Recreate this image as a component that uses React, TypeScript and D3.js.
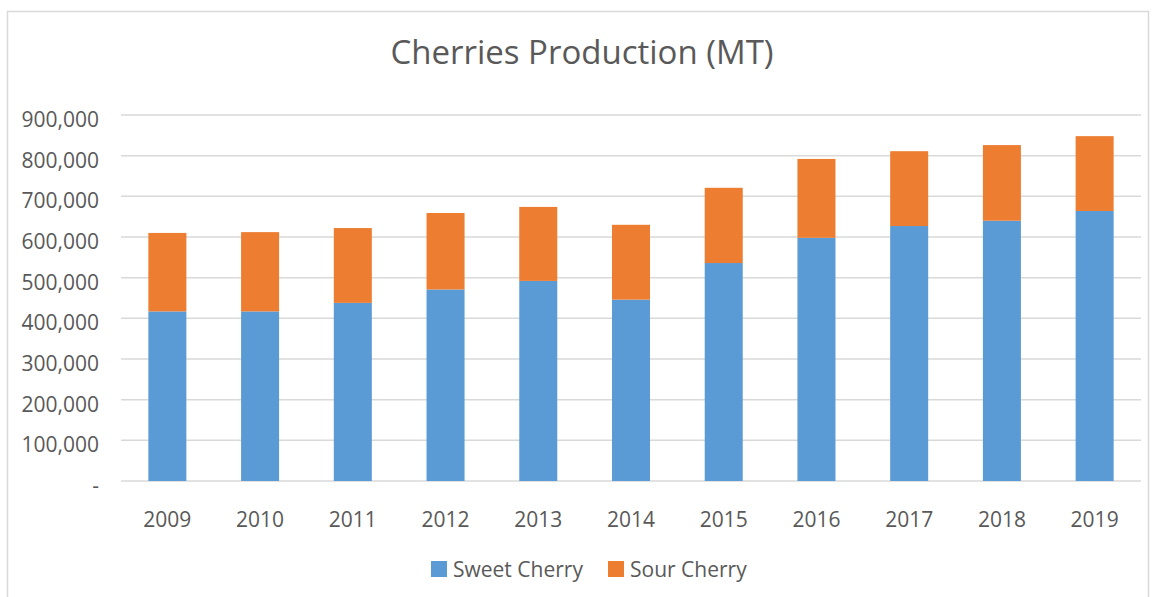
import React, { useEffect, useRef } from "react";
import * as d3 from "d3";

const years = ["2009", "2010", "2011", "2012", "2013", "2014", "2015", "2016", "2017", "2018", "2019"];
const sweetCherry = [417000, 417000, 438000, 471000, 492000, 446000, 536000, 598000, 627000, 640000, 664000];
const sourCherry = [193000, 195000, 184000, 188000, 182000, 184000, 185000, 194000, 184000, 186000, 184000];
const yTicks = [0, 100000, 200000, 300000, 400000, 500000, 600000, 700000, 800000, 900000];
const seriesNames = ["Sweet Cherry", "Sour Cherry"];
const seriesColors = ["#5b9bd5", "#ed7d31"];

const W = 1155;
const H = 597;
const FONT = "'Open Sans', 'Noto Sans', sans-serif";

export default function App() {
  const ref = useRef<SVGSVGElement>(null);
  useEffect(() => {
    const svg = d3.select(ref.current);
    svg.selectAll("*").remove();
    const left = 121, right = 1141, top = 115, bottom = 481;

    svg.append("rect").attr("x", 7.5).attr("y", 11.5).attr("width", 1141).attr("height", 600)
      .attr("fill", "#fff").attr("stroke", "#d9d9d9").attr("stroke-width", 1.5);

    svg.append("text").attr("x", 582).attr("y", 64).attr("text-anchor", "middle")
      .attr("font-family", FONT).attr("font-size", 33).attr("fill", "#595959")
      .text("Cherries Production (MT)");

    const x = d3.scaleBand().domain(years).range([left, right]).paddingInner(0.59).paddingOuter(0.295);
    const y = d3.scaleLinear().domain([0, 900000]).range([bottom, top]);

    const g = svg.append("g");
    g.selectAll("line.grid").data(yTicks).enter().append("line")
      .attr("x1", left).attr("x2", right)
      .attr("y1", d => y(d)).attr("y2", d => y(d))
      .attr("stroke", "#d9d9d9").attr("stroke-width", 1.5);

    const fmt = d3.format(",");
    g.selectAll("text.ytick").data(yTicks).enter().append("text")
      .attr("x", 99).attr("y", d => y(d) + 12).attr("text-anchor", "end")
      .attr("font-family", FONT).attr("font-size", 21).attr("fill", "#595959")
      .text(d => (d === 0 ? "-" : fmt(d)));

    const data = years.map((yr, i) => ({ year: yr, sweet: sweetCherry[i], sour: sourCherry[i] }));
    const stack = d3.stack<any>().keys(["sweet", "sour"]);
    const series = stack(data);
    series.forEach((s, si) => {
      g.selectAll(`rect.s${si}`).data(s).enter().append("rect")
        .attr("x", d => x(d.data.year)!)
        .attr("width", x.bandwidth())
        .attr("y", d => y(d[1]))
        .attr("height", d => y(d[0]) - y(d[1]))
        .attr("fill", seriesColors[si]);
    });

    g.selectAll("text.xtick").data(years).enter().append("text")
      .attr("x", d => x(d)! + x.bandwidth() / 2).attr("y", 527).attr("text-anchor", "middle")
      .attr("font-family", FONT).attr("font-size", 21).attr("fill", "#595959")
      .text(d => d);

    const legendX = [431, 608];
    seriesNames.forEach((n, i) => {
      svg.append("rect").attr("x", legendX[i]).attr("y", 561).attr("width", 16).attr("height", 16).attr("fill", seriesColors[i]);
      svg.append("text").attr("x", legendX[i] + 22).attr("y", 577)
        .attr("font-family", FONT).attr("font-size", 21).attr("fill", "#595959").text(n);
    });
  }, []);
  return (
    <svg ref={ref} width={W} height={H} style={{ position: "absolute", left: 0, top: 0 }} />
  );
}
